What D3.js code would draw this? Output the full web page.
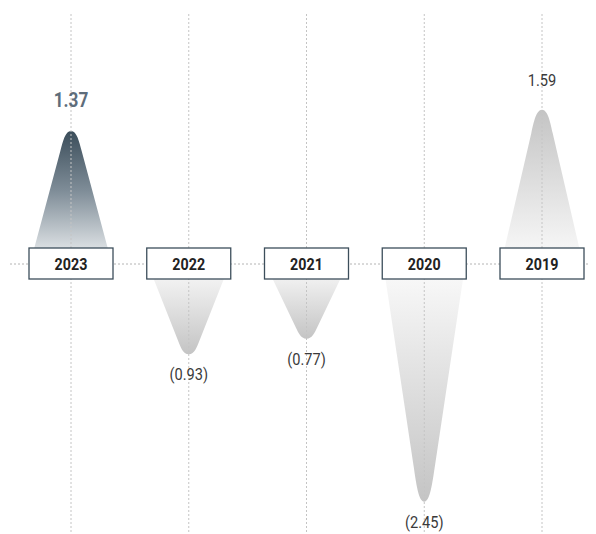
<!DOCTYPE html>
<html>
<head>
<meta charset="utf-8">
<script src="https://cdn.jsdelivr.net/npm/d3@7"></script>
<style>
  html, body { margin: 0; padding: 0; background: #fff; }
  svg { display: block; }
  text { font-family: "Roboto", "Liberation Sans", sans-serif; }
</style>
</head>
<body>
<svg id="chart" width="596" height="534"></svg>
<script>
// Earnings per share by year (negative values shown in parentheses)
const years = ["2023", "2022", "2021", "2020", "2019"];
const values = [1.37, -0.93, -0.77, -2.45, 1.59];
const valueLabels = ["1.37", "(0.93)", "(0.77)", "(2.45)", "1.59"];
const highlightYear = "2023";

const W = 596, H = 534;
const svg = d3.select("#chart");

const x = d3.scalePoint().domain(years).range([71, 542]);
// zero line at y = 264, ~97px per unit
const y0px = 264, perUnit = 97;
const y = d3.scaleLinear().domain([-2.45, 1.59])
  .range([y0px + 2.45 * perUnit, y0px - 1.59 * perUnit]);

const defs = svg.append("defs");
const data = years.map((yr, i) => ({ year: yr, value: values[i], label: valueLabels[i] }));

// gradients: tip colour fading toward the zero line
data.forEach((d, i) => {
  const up = d.value >= 0;
  const g = defs.append("linearGradient")
    .attr("id", "grad" + i)
    .attr("x1", 0).attr("x2", 0)
    .attr("y1", up ? 0 : 1).attr("y2", up ? 1 : 0);
  const hi = d.year === highlightYear;
  g.append("stop").attr("offset", "0%").attr("stop-color", hi ? "#3b4d5a" : "#c4c4c4");
  if (hi) g.append("stop").attr("offset", "45%").attr("stop-color", "#7f8d98");
  g.append("stop").attr("offset", "100%").attr("stop-color", hi ? "#f3f5f6" : "#fbfbfb");
});

// peak shape: straight flanks with a rounded tip
function peakPath(cx, yb, yT, w) {
  const h = yT - yb;             // signed height
  const hw = w / 2;
  const r = hw * 0.26;           // half-width where the cap starts
  const capY = yT - h * 0.15;    // y where the cap starts
  const dx = hw - r, dy = capY - yb;
  const len = Math.hypot(dx, dy);
  const t = Math.abs(h) * 0.07;
  const c1x = r - dx / len * t;
  const c1y = capY + dy / len * t;
  return [
    `M${cx - hw},${yb}`,
    `L${cx - r},${capY}`,
    `C${cx - c1x},${c1y} ${cx - r * 0.55},${yT} ${cx},${yT}`,
    `C${cx + r * 0.55},${yT} ${cx + c1x},${c1y} ${cx + r},${capY}`,
    `L${cx + hw},${yb}`,
    "Z"
  ].join(" ");
}

svg.append("g").selectAll("path.peak").data(data).join("path")
  .attr("class", "peak")
  .attr("d", d => peakPath(x(d.year), y(0), y(d.value), 82))
  .attr("fill", (d, i) => `url(#grad${i})`);

// vertical gridlines through each year
svg.append("g").selectAll("line.vgrid").data(years).join("line")
  .attr("class", "vgrid")
  .attr("x1", d => x(d)).attr("x2", d => x(d))
  .attr("y1", 14).attr("y2", H)
  .attr("stroke", "#c4c4c4").attr("stroke-width", 1)
  .attr("stroke-dasharray", "2,2");

// horizontal zero line
svg.append("line")
  .attr("x1", 10).attr("x2", 590)
  .attr("y1", y(0)).attr("y2", y(0))
  .attr("stroke", "#b4b4b4").attr("stroke-width", 1)
  .attr("stroke-dasharray", "2,2");

// condensed-looking text: squeeze horizontally around the anchor point
function squeeze(sel, k) {
  sel.attr("transform", function () {
    const tx = +this.getAttribute("x");
    return `translate(${tx},0) scale(${k},1) translate(${-tx},0)`;
  });
}

// value labels
svg.append("g").selectAll("text.val").data(data).join("text")
  .attr("class", "val")
  .attr("x", d => x(d.year))
  .attr("y", d => d.value >= 0 ? y(d.value) - 24 : y(d.value) + 26)
  .attr("text-anchor", "middle")
  .attr("font-size", d => d.year === highlightYear ? 20 : 17)
  .attr("font-weight", d => d.year === highlightYear ? "bold" : "normal")
  .attr("fill", d => d.year === highlightYear ? "#5e6d7b" : "#3a3a3a")
  .text(d => d.label)
  .call(squeeze, 0.86);

// year boxes on the zero line
const boxes = svg.append("g").selectAll("g.box").data(data).join("g").attr("class", "box");
boxes.append("rect")
  .attr("x", d => x(d.year) - 42).attr("y", y(0) - 16)
  .attr("width", 84).attr("height", 31)
  .attr("fill", "#fff").attr("stroke", "#3c4e5b").attr("stroke-width", 1.3);
boxes.append("text")
  .attr("x", d => x(d.year)).attr("y", y(0) + 6.5)
  .attr("text-anchor", "middle")
  .attr("font-size", 17).attr("font-weight", "bold")
  .attr("fill", "#222")
  .text(d => d.year)
  .call(squeeze, 0.84);
</script>
</body>
</html>
